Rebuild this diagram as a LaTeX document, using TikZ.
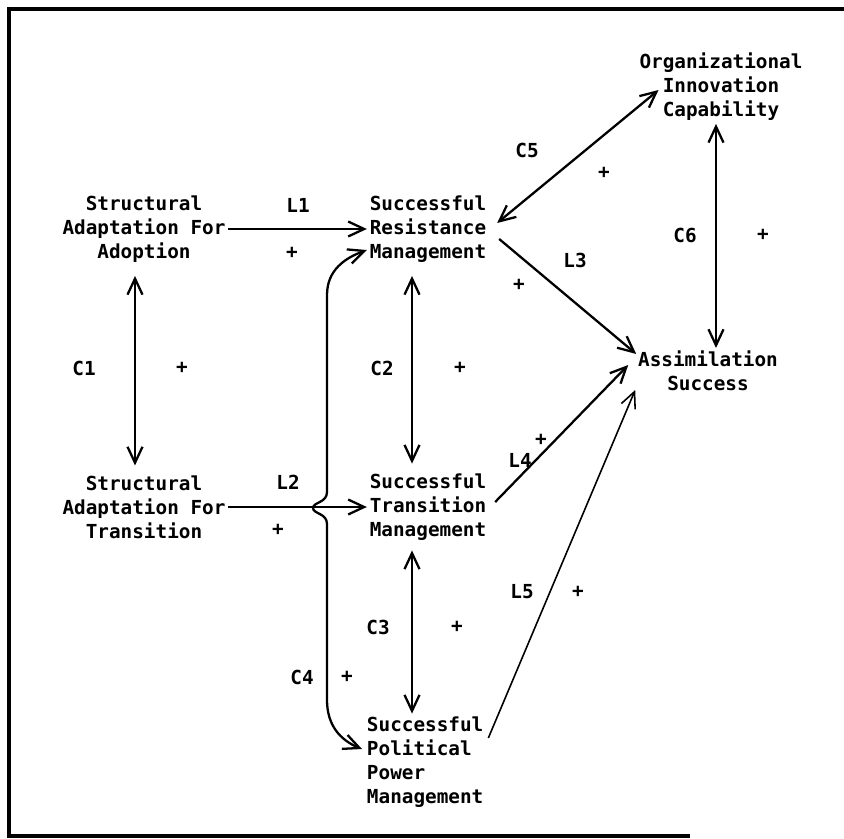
\documentclass[tikz,border=0pt]{standalone}
\usepackage{fontspec}
\setmonofont{DejaVu Sans Mono}
\usetikzlibrary{arrows.meta,calc}
\begin{document}
\begin{tikzpicture}[x=0.02cm,y=-0.02cm,
  every node/.style={font=\ttfamily\bfseries\fontsize{11}{13.7}\selectfont,inner sep=1.5pt},
  box/.style={align=center},
  link/.style={line width=1.3pt,->},
  corr/.style={line width=1.3pt,<->},
  >={Straight Barb[length=3.2mm,width=3mm]}]
\useasboundingbox (0,0) rectangle (844,838);
\draw[line width=2pt] (844,9) -- (9,9) -- (9,836) -- (690,836);

\node[box] (adopt) at (144,229) {Structural\\Adaptation For\\Adoption};
\node[box] (trans) at (144,507) {Structural\\Adaptation For\\Transition};
\node[box] (resist) at (428,229) {Successful\\Resistance\\Management};
\node[box] (transm) at (428,507) {Successful\\Transition\\Management};
\node[align=left,anchor=west] (polit) at (364,762) {Successful\\Political\\Power\\Management};
\node[box] (assim) at (708,371) {Assimilation\\Success};
\node[box] (org) at (721,87) {Organizational\\Innovation\\Capability};

\draw[link] (adopt.east) -- (resist.west);
\draw[link] (trans.east) -- (transm.west);
\draw[link] ($(resist.east)+(10,10)$) -- ($(assim.north west)+(1,6)$);
\draw[link] ($(transm.east)+(6,-5)$) -- ($(assim.west)+(-7,-6)$);
\draw[link,line width=0.9pt] ($(polit.east)+(2,-24)$) -- ($(assim.west)+(0,19)$);

\draw[corr,shorten <=6pt,shorten >=4pt] ([xshift=-0.18cm]adopt.south) -- ([xshift=-0.18cm]trans.north);
\draw[corr,shorten <=6pt,shorten >=4pt] ([xshift=-0.32cm]resist.south) -- ([xshift=-0.32cm]transm.north);
\draw[corr,shorten <=4pt] ([xshift=-0.32cm]transm.south) -- ([xshift=-0.32cm]polit.north -| transm.south);
\draw[corr] ($(resist.east)+(8,-6)$) -- ($(org.west)+(22,3)$);
\draw[corr] ([xshift=-0.1cm]org.south) -- ([xshift=-0.1cm]org.south |- assim.north);
\draw[corr] ($(polit.west)+(-2,-13)$) .. controls (340,740) and (327,725) .. (327,700)
  -- (327,524) .. controls (327,513) and (313,514) .. (313,508)
  .. controls (313,502) and (327,503) .. (327,492)
  -- (327,295) .. controls (327,270) and (345,258) .. ($(resist.west)+(0,21)$);

\node (l1) at (298,205) {L1};
\node (l1s) at (292,253) {+};
\node (l2) at (288,482) {L2};
\node (l2s) at (278,530) {+};
\node (c1) at (84,368) {C1};
\node (c1s) at (182,368) {+};
\node (c2) at (382,368) {C2};
\node (c2s) at (460,368) {+};
\node (c3) at (378,627) {C3};
\node (c3s) at (457,627) {+};
\node (c4) at (302,677) {C4};
\node (c4s) at (347,677) {+};
\node (c5) at (527,150) {C5};
\node (c5s) at (604,173) {+};
\node (c6) at (685,235) {C6};
\node (c6s) at (763,235) {+};
\node (l3) at (575,260) {L3};
\node (l3s) at (519,285) {+};
\node (l4) at (520,460) {L4};
\node (l4s) at (541,440) {+};
\node (l5) at (522,592) {L5};
\node (l5s) at (578,592) {+};
\end{tikzpicture}
\end{document}
